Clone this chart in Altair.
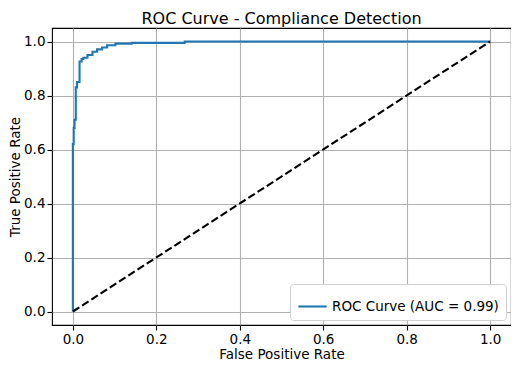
import altair as alt
import pandas as pd

# ROC curve staircase points
fpr = [0.0, 0.0, 0.002, 0.002, 0.004, 0.004, 0.007, 0.007, 0.010, 0.010, 0.016, 0.016,
       0.021, 0.021, 0.025, 0.025, 0.035, 0.035, 0.047, 0.047, 0.058, 0.058, 0.070, 0.070,
       0.082, 0.082, 0.102, 0.102, 0.141, 0.141, 0.268, 0.268, 1.0]
tpr = [0.0, 0.62, 0.62, 0.68, 0.68, 0.71, 0.71, 0.83, 0.83, 0.85, 0.85, 0.926,
       0.926, 0.935, 0.935, 0.94, 0.94, 0.95, 0.95, 0.962, 0.962, 0.971, 0.971, 0.978,
       0.978, 0.986, 0.986, 0.992, 0.992, 0.995, 0.995, 1.0, 1.0]
diag_x = [0.0, 1.0]
diag_y = [0.0, 1.0]
series_label = "ROC Curve (AUC = 0.99)"
ticks = [0.0, 0.2, 0.4, 0.6, 0.8, 1.0]

roc = pd.DataFrame({"fpr": fpr, "tpr": tpr, "i": list(range(len(fpr))), "s": series_label})
diag = pd.DataFrame({"fpr": diag_x, "tpr": diag_y})

xs = alt.Scale(domain=[-0.05, 1.05], nice=False, zero=False)
ys = alt.Scale(domain=[-0.05, 1.05], nice=False, zero=False)
xa = alt.Axis(values=ticks, format=".1f", title="False Positive Rate", titlePadding=2, labelPadding=2)
ya = alt.Axis(values=ticks, format=".1f", title="True Positive Rate", titlePadding=1, labelPadding=2)

roc_line = alt.Chart(roc).mark_line(strokeWidth=2.1, interpolate="linear").encode(
    x=alt.X("fpr:Q", scale=xs, axis=xa),
    y=alt.Y("tpr:Q", scale=ys, axis=ya),
    order="i:Q",
    color=alt.Color("s:N", scale=alt.Scale(domain=[series_label], range=["#1f77b4"]),
                    legend=alt.Legend(title=None, orient="bottom-right", symbolType="stroke",
                                      symbolSize=800, symbolStrokeWidth=2.1, labelFontSize=13.5,
                                      labelFont="DejaVu Sans", labelColor="#000000", labelLimit=0,
                                      fillColor="white", strokeColor="#d0d0d0", cornerRadius=3,
                                      padding=7, offset=5)),
)

diag_line = alt.Chart(diag).mark_line(color="black", strokeDash=[7.7, 3.3], strokeWidth=2.1).encode(
    x=alt.X("fpr:Q", scale=xs),
    y=alt.Y("tpr:Q", scale=ys),
)

chart = alt.layer(roc_line, diag_line).properties(
    width=459, height=297,
    title=alt.Title("ROC Curve - Compliance Detection", fontSize=16, fontWeight="normal",
                    font="DejaVu Sans", color="#000000", offset=1),
    padding={"left": 0, "top": 3, "right": 0, "bottom": 0},
).configure_view(stroke="black", strokeWidth=1.1).configure_axis(
    grid=True, gridColor="#b0b0b0", gridWidth=1.1, domain=False,
    tickColor="black", tickSize=5, tickWidth=1.1, labelFont="DejaVu Sans", labelFontSize=13.5,
    labelColor="#000000", titleFont="DejaVu Sans", titleFontSize=13.5,
    titleFontWeight="normal", titleColor="#000000",
)

chart.save("out.html", embed_options={"renderer": "svg", "actions": False})
